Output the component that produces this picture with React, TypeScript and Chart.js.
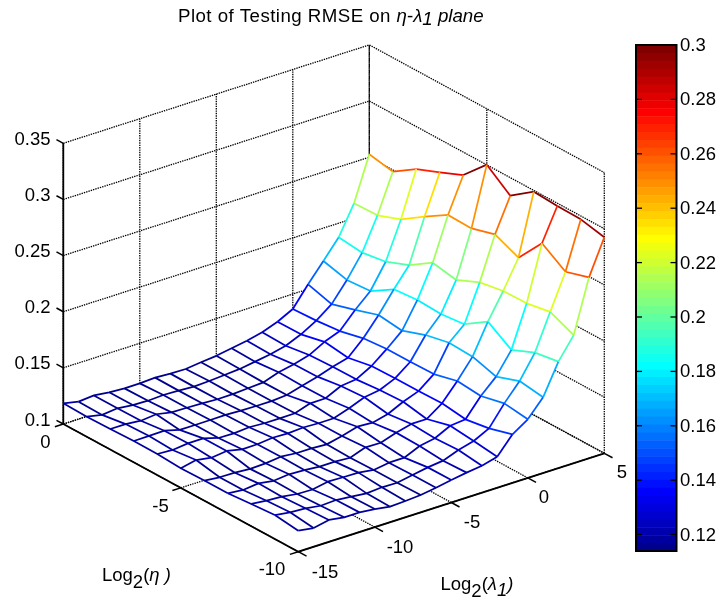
import React, { useEffect, useRef } from "react";
import { Chart, registerables } from "chart.js";

Chart.register(...registerables);

// log2(eta) = 0, -1, ... -10 ; log2(lambda1) = -15 ... 5
const etaValues = [0, -1, -2, -3, -4, -5, -6, -7, -8, -9, -10];
const lambdaValues = [-15, -14, -13, -12, -11, -10, -9, -8, -7, -6, -5, -4, -3, -2, -1, 0, 1, 2, 3, 4, 5];

const rmseEta0 = [.1184, .1155, .1167, .1151, .1142, .1143, .1150, .1142, .1139, .1155, .1169, .1192, .1216, .1247, .1297, .1367, .1543, .1707, .1874, .2133, .2526];
const rmseEta1 = [.1179, .1151, .1166, .1151, .1146, .1153, .1148, .1140, .1146, .1156, .1166, .1187, .1209, .1241, .1299, .1377, .1480, .1652, .1851, .2140, .2485];
const rmseEta2 = [.1183, .1183, .1169, .1183, .1156, .1153, .1149, .1141, .1143, .1151, .1160, .1206, .1233, .1272, .1346, .1398, .1542, .1667, .1884, .2218, .2622];
const rmseEta3 = [.1190, .1191, .1194, .1157, .1157, .1158, .1159, .1153, .1151, .1151, .1161, .1200, .1237, .1281, .1318, .1447, .1611, .1796, .1968, .2355, .2706];
const rmseEta4 = [.1188, .1180, .1195, .1196, .1155, .1153, .1163, .1155, .1155, .1156, .1201, .1202, .1268, .1283, .1358, .1466, .1585, .1815, .2103, .2484, .2796];
const rmseEta5 = [.1175, .1204, .1181, .1197, .1168, .1169, .1183, .1178, .1187, .1181, .1182, .1227, .1281, .1302, .1362, .1466, .1660, .1803, .2063, .2478, .3002];
const rmseEta6 = [.1179, .1164, .1161, .1151, .1157, .1172, .1159, .1159, .1151, .1181, .1220, .1212, .1246, .1311, .1362, .1470, .1705, .1826, .2155, .2539, .2839];
const rmseEta7 = [.1179, .1165, .1180, .1159, .1173, .1167, .1153, .1154, .1145, .1194, .1191, .1237, .1271, .1271, .1367, .1522, .1695, .1963, .2192, .2445, .2989];
const rmseEta8 = [.1198, .1183, .1175, .1155, .1151, .1177, .1173, .1170, .1150, .1171, .1172, .1232, .1257, .1325, .1338, .1502, .1631, .1825, .2196, .2687, .2975];
const rmseEta9 = [.1213, .1193, .1185, .1164, .1171, .1157, .1143, .1153, .1150, .1175, .1199, .1215, .1266, .1303, .1371, .1550, .1705, .1914, .2234, .2547, .2970];
const rmseEta10 = [.1187, .1167, .1195, .1175, .1175, .1161, .1138, .1145, .1154, .1175, .1200, .1222, .1240, .1276, .1432, .1522, .1674, .1948, .2140, .2611, .2924];
const rmseRows = [rmseEta0, rmseEta1, rmseEta2, rmseEta3, rmseEta4, rmseEta5, rmseEta6, rmseEta7, rmseEta8, rmseEta9, rmseEta10];

const zTicks = [0.1, 0.15, 0.2, 0.25, 0.3, 0.35];
const zTickLabels = ["0.1", "0.15", "0.2", "0.25", "0.3", "0.35"];
const etaTicks = [0, -5, -10];
const etaTickLabels = ["0", "-5", "-10"];
const lambdaTicks = [-15, -10, -5, 0, 5];
const lambdaTickLabels = ["-15", "-10", "-5", "0", "5"];
const colorTicks = [0.12, 0.14, 0.16, 0.18, 0.2, 0.22, 0.24, 0.26, 0.28, 0.3];
const colorTickLabels = ["0.12", "0.14", "0.16", "0.18", "0.2", "0.22", "0.24", "0.26", "0.28", "0.3"];

const C_MIN = 0.1138;
const C_MAX = 0.3002;
const LEVELS = 64;
const FONT = '"Liberation Sans", Arial, sans-serif';

// Orthographic view of the 3-D box
const projX = (eta: number, lam: number) => 63.3 + 23.5 * -eta + 15.3 * (lam + 15);
const projY = (eta: number, lam: number, z: number) => 424 + 12.77 * -eta - 4.92 * (lam + 15) - (z - 0.1) * 1122.8;
const P = (eta: number, lam: number, z: number) => ({ x: projX(eta, lam), y: projY(eta, lam, z) });

const clamp = (v: number) => Math.max(0, Math.min(1, v));
function jetLevel(k: number) {
  const t = (k + 1) / LEVELS;
  const r = clamp(Math.min(4 * t - 1.5, -4 * t + 4.5));
  const g = clamp(Math.min(4 * t - 0.5, -4 * t + 3.5));
  const b = clamp(Math.min(4 * t + 0.5, -4 * t + 2.5));
  return `rgb(${Math.round(r * 255)},${Math.round(g * 255)},${Math.round(b * 255)})`;
}
function jet(z: number) {
  const k = Math.max(0, Math.min(LEVELS - 1, Math.floor(((z - C_MIN) / (C_MAX - C_MIN)) * LEVELS)));
  return jetLevel(k);
}

// Colour bar frame on the page
const CB_LEFT = 636;
const CB_RIGHT = 676.5;
const CB_TOP = 45;
const CB_BOTTOM = 551;
const cbY = (v: number) => CB_TOP + ((0.3 - v) / 0.02) * 54.4;
const cbBottomValue = 0.3 - ((CB_BOTTOM - CB_TOP) / 54.4) * 0.02;

type Pt = { x: number; y: number };
const line = (data: Pt[], borderColor: string, borderWidth: number, order: number, dash: number[] = []) => ({
  data,
  borderColor,
  borderWidth,
  order,
  borderDash: dash,
  showLine: true,
  fill: false,
  pointRadius: 0,
  tension: 0,
  borderCapStyle: "butt",
  clip: false,
});

function buildDatasets() {
  const ds: any[] = [];
  const eta0 = etaValues[0];
  const etaN = etaValues[etaValues.length - 1];
  const lam0 = lambdaValues[0];
  const lamN = lambdaValues[lambdaValues.length - 1];
  const zLo = zTicks[0];
  const zHi = zTicks[zTicks.length - 1];
  const DOT = [1.4, 1];

  // Dotted box and grid (behind the surface)
  const GRID = 5;
  for (const z of zTicks) {
    ds.push(line([P(eta0, lam0, z), P(eta0, lamN, z), P(etaN, lamN, z)], "#000", 1.3, GRID, DOT));
  }
  for (const lam of lambdaTicks) {
    ds.push(line([P(etaN, lam, zLo), P(eta0, lam, zLo), P(eta0, lam, zHi)], "#000", 1.3, GRID, DOT));
  }
  for (const eta of etaTicks) {
    ds.push(line([P(eta, lam0, zLo), P(eta, lamN, zLo), P(eta, lamN, zHi)], "#000", 1.3, GRID, DOT));
  }

  // Solid axes and tick marks
  const AX = 4;
  ds.push(line([P(eta0, lam0, zLo), P(eta0, lam0, zHi)], "#000", 1.8, AX));
  ds.push(line([P(eta0, lam0, zLo), P(etaN, lam0, zLo), P(etaN, lamN, zLo)], "#000", 1.8, AX));
  for (const z of zTicks) ds.push(line([P(eta0, lam0, z), P(eta0 + 0.29, lam0, z)], "#000", 1.5, AX));
  for (const eta of etaTicks) ds.push(line([P(eta, lam0, zLo), P(eta, lam0 - 0.55, zLo)], "#000", 1.5, AX));
  for (const lam of lambdaTicks) ds.push(line([P(etaN, lam, zLo), P(etaN - 0.35, lam, zLo)], "#000", 1.5, AX));

  // White faces of the surface: outline of the mesh
  const outline: Pt[] = [];
  lambdaValues.forEach((lam, j) => outline.push(P(eta0, lam, rmseRows[0][j])));
  etaValues.forEach((eta, i) => outline.push(P(eta, lamN, rmseRows[i][lambdaValues.length - 1])));
  [...lambdaValues].reverse().forEach((lam, j) =>
    outline.push(P(etaN, lam, rmseRows[etaValues.length - 1][lambdaValues.length - 1 - j]))
  );
  [...etaValues].reverse().forEach((eta, i) => outline.push(P(eta, lam0, rmseRows[etaValues.length - 1 - i][0])));
  ds.push({ ...line(outline, "rgba(255,255,255,0)", 0, 3), whiteFace: true });

  // Mesh lines: every segment coloured by its lower-coordinate vertex
  etaValues.forEach((eta, i) => {
    const d = line(lambdaValues.map((lam, j) => P(eta, lam, rmseRows[i][j])), "#00008f", 1.75, 2) as any;
    d.segment = { borderColor: (c: any) => jet(rmseRows[i][c.p0DataIndex]) };
    ds.push(d);
  });
  lambdaValues.forEach((lam, j) => {
    const d = line(etaValues.map((eta, i) => P(eta, lam, rmseRows[i][j])), "#00008f", 1.75, 2) as any;
    d.segment = { borderColor: (c: any) => jet(rmseRows[c.p1DataIndex][j]) };
    ds.push(d);
  });

  // Colour bar
  const cx = (CB_LEFT + CB_RIGHT) / 2;
  for (let k = 0; k < LEVELS; k++) {
    const v0 = cbBottomValue + ((0.3 - cbBottomValue) * k) / LEVELS;
    const v1 = cbBottomValue + ((0.3 - cbBottomValue) * (k + 1)) / LEVELS;
    ds.push(line([{ x: cx, y: cbY(v0) + 0.5 }, { x: cx, y: cbY(v1) }], jetLevel(k), CB_RIGHT - CB_LEFT, 2));
  }
  const box = [
    { x: CB_LEFT, y: CB_TOP },
    { x: CB_RIGHT, y: CB_TOP },
    { x: CB_RIGHT, y: CB_BOTTOM },
    { x: CB_LEFT, y: CB_BOTTOM },
    { x: CB_LEFT, y: CB_TOP - 1 },
  ];
  ds.push(line(box, "#000", 2, 1));
  for (const v of colorTicks) {
    const y = cbY(v);
    ds.push(line([{ x: CB_LEFT, y }, { x: CB_LEFT + 6, y }], "#000", 1.3, 1));
    ds.push(line([{ x: CB_RIGHT - 6, y }, { x: CB_RIGHT, y }], "#000", 1.3, 1));
  }
  return ds;
}

type Run = { t: string; style?: string; dy?: number; size?: number; spacing?: string };

function drawRuns(ctx: any, x: number, y: number, size: number, runs: Run[]) {
  ctx.textAlign = "left";
  ctx.textBaseline = "alphabetic";
  let cur = x;
  for (const r of runs) {
    ctx.font = `${r.style || "normal"} ${r.size || size}px ${FONT}`;
    ctx.letterSpacing = r.spacing || "0px";
    ctx.fillText(r.t, cur, y + (r.dy || 0));
    cur += ctx.measureText(r.t).width;
  }
  ctx.letterSpacing = "0px";
}

const whiteFacePlugin = {
  id: "whiteFace",
  beforeDatasetDraw(chart: any, args: any) {
    const ds = chart.data.datasets[args.index];
    if (!ds.whiteFace) return;
    const { ctx, scales } = chart;
    ctx.save();
    ctx.beginPath();
    ds.data.forEach((p: Pt, i: number) => {
      const px = scales.x.getPixelForValue(p.x);
      const py = scales.y.getPixelForValue(p.y);
      if (i === 0) ctx.moveTo(px, py);
      else ctx.lineTo(px, py);
    });
    ctx.closePath();
    ctx.fillStyle = "#fff";
    ctx.fill();
    ctx.restore();
  },
};

const textPlugin = {
  id: "labels3d",
  afterDraw(chart: any) {
    const { ctx } = chart;
    ctx.save();
    ctx.fillStyle = "#000";
    ctx.textBaseline = "middle";
    ctx.font = `18.5px ${FONT}`;

    ctx.textAlign = "right";
    zTicks.forEach((z, i) => ctx.fillText(zTickLabels[i], 50.5, projY(0, -15, z) - 3.5));

    ctx.textAlign = "center";
    const etaPos = [[45.5, 442.5], [160.5, 506.5], [272, 570]];
    etaTicks.forEach((_, i) => ctx.fillText(etaTickLabels[i], etaPos[i][0], etaPos[i][1]));
    const lamPos = [[325, 572.5], [400, 548], [472, 523], [544, 498], [622, 473]];
    lambdaTicks.forEach((_, i) => ctx.fillText(lambdaTickLabels[i], lamPos[i][0], lamPos[i][1]));

    ctx.textAlign = "left";
    colorTicks.forEach((v, i) => ctx.fillText(colorTickLabels[i], 680, cbY(v) + 1));

    drawRuns(ctx, 178, 22, 18.7, [
      { t: "Plot of Testing RMSE on ", spacing: "0.45px" },
      { t: "\u03B7", style: "italic" },
      { t: "-" },
      { t: "\u03BB", style: "italic" },
      { t: "1", style: "italic", dy: 3 },
      { t: " plane", style: "italic" },
    ]);
    drawRuns(ctx, 102, 581, 18.5, [
      { t: "Log" },
      { t: "2", dy: 7 },
      { t: "(" },
      { t: "\u03B7", style: "italic" },
      { t: " )", style: "italic" },
    ]);
    drawRuns(ctx, 440.5, 590, 18.5, [
      { t: "Log" },
      { t: "2", dy: 7 },
      { t: "(" },
      { t: "\u03BB", style: "italic" },
      { t: "1", style: "italic", dy: 6 },
      { t: ")", style: "italic" },
    ]);
    ctx.restore();
  },
};

export default function App() {
  const ref = useRef<HTMLCanvasElement | null>(null);
  useEffect(() => {
    if (!ref.current) return;
    const chart = new Chart(ref.current, {
      type: "scatter",
      data: { datasets: buildDatasets() },
      options: {
        responsive: false,
        animation: false,
        layout: { padding: 0 },
        events: [],
        plugins: { legend: { display: false }, tooltip: { enabled: false }, title: { display: false } },
        scales: {
          x: { type: "linear", min: 0, max: 719, display: false },
          y: { type: "linear", min: 0, max: 601, reverse: true, display: false },
        },
      },
      plugins: [whiteFacePlugin, textPlugin],
    } as any);
    return () => chart.destroy();
  }, []);
  return (
    <div style={{ position: "absolute", left: 0, top: 0, width: 719, height: 601, background: "#fff" }}>
      <canvas ref={ref} width={719} height={601} style={{ display: "block" }} />
    </div>
  );
}
